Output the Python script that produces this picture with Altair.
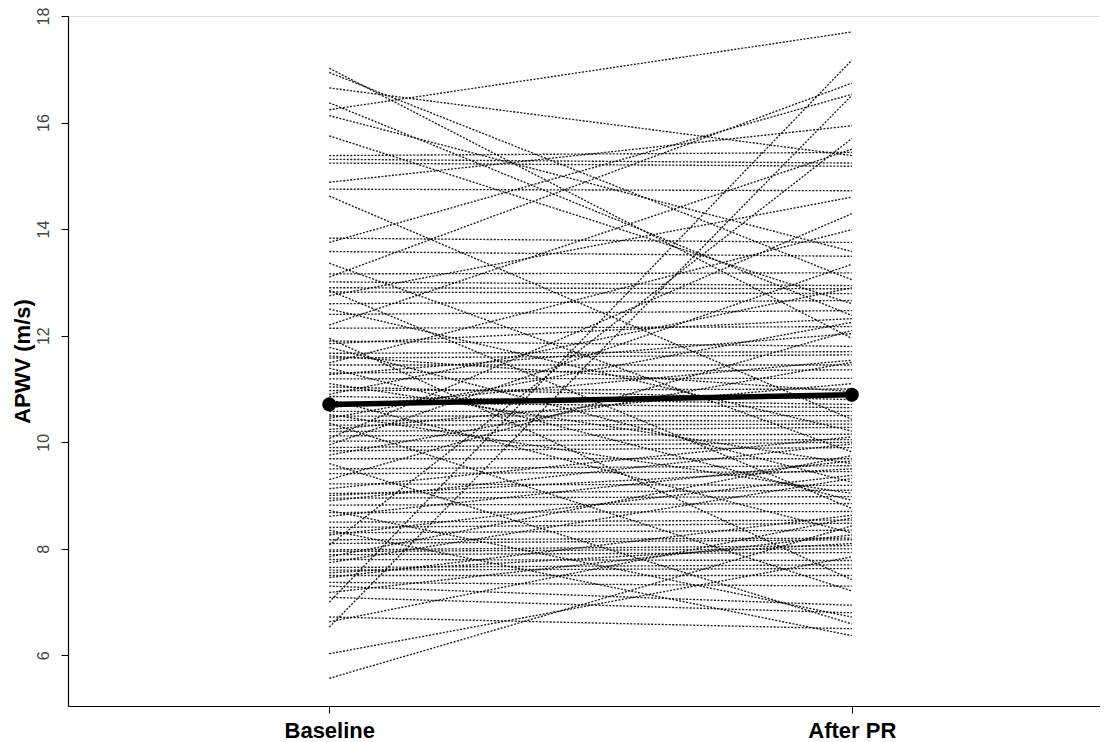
import altair as alt
import pandas as pd

# Individual subjects: APWV (m/s) at baseline and after PR
baseline = [17.02, 16.94, 16.65, 16.37, 16.24, 16.13, 15.75, 15.38, 15.31, 15.24,
            14.88, 14.75, 14.62, 13.83, 13.75, 13.58, 13.36, 13.16, 13.10, 13.01,
            12.90, 12.85, 12.82, 12.75, 12.60, 12.50, 12.40, 12.20, 12.14, 11.95,
            11.90, 11.85, 11.78, 11.67, 11.62, 11.58, 11.49, 11.45, 11.39, 11.30,
            11.27, 11.19, 11.10, 11.04, 10.97, 10.90, 10.86, 10.80, 10.75, 10.65,
            10.58, 10.52, 10.49, 10.45, 10.41, 10.36, 10.32, 10.24, 10.20, 10.12,
            10.07, 10.02, 9.95, 9.90, 9.84, 9.76, 9.69, 9.60, 9.50, 9.41,
            9.30, 9.22, 9.13, 9.04, 9.00, 8.95, 8.90, 8.82, 8.72, 8.68,
            8.61, 8.50, 8.40, 8.35, 8.30, 8.26, 8.17, 8.10, 8.07, 7.98,
            7.95, 7.89, 7.85, 7.80, 7.74, 7.65, 7.60, 7.55, 7.50, 7.46,
            7.37, 7.30, 7.18, 7.09, 7.00, 6.72, 6.63, 6.53, 6.03, 5.57]
after_pr = [11.95, 13.05, 15.38, 12.38, 17.70, 13.58, 12.60, 15.44, 15.24, 15.18,
            15.94, 14.72, 10.43, 13.75, 16.53, 13.49, 9.82, 13.18, 16.74, 12.94,
            12.88, 8.76, 12.79, 14.60, 12.66, 10.21, 12.47, 15.50, 12.17, 7.42,
            11.80, 12.32, 9.25, 11.70, 10.95, 11.64, 13.99, 11.45, 8.91, 11.36,
            12.04, 11.20, 9.60, 10.80, 11.00, 12.90, 10.71, 8.30, 10.65, 11.54,
            10.58, 9.04, 10.50, 12.25, 10.40, 7.21, 10.34, 11.10, 10.28, 10.15,
            14.29, 10.05, 13.34, 10.00, 9.90, 11.50, 9.69, 6.59, 9.56, 9.45,
            12.10, 9.19, 10.10, 9.10, 9.50, 8.98, 9.97, 8.85, 6.72, 8.70,
            9.65, 8.54, 8.48, 6.37, 8.35, 9.38, 8.20, 8.17, 15.70, 8.06,
            8.00, 7.93, 9.75, 7.78, 9.32, 7.70, 7.63, 8.10, 7.50, 8.63,
            7.30, 6.94, 8.26, 6.80, 17.17, 6.50, 8.58, 16.51, 7.85, 8.43]

mean_values = [10.71, 10.89]
time_positions = [1, 2]
time_labels = ["Baseline", "After PR"]
y_ticks = [6, 8, 10, 12, 14, 16, 18]

rows = []
for i, (b, a) in enumerate(zip(baseline, after_pr)):
    rows.append({"id": i, "t": time_positions[0], "v": b})
    rows.append({"id": i, "t": time_positions[1], "v": a})
df = pd.DataFrame(rows)
mean_df = pd.DataFrame({"t": time_positions, "v": mean_values})

label_expr = "datum.value == 1 ? '%s' : (datum.value == 2 ? '%s' : '')" % (time_labels[0], time_labels[1])

x_scale = alt.Scale(domain=[0.5, 2.475], nice=False, zero=False)
y_scale = alt.Scale(domain=[5.05, 18], nice=False, zero=False)

x_axis = alt.Axis(values=time_positions, labelExpr=label_expr, title=None, grid=False,
                  labelFont="Liberation Sans", labelFontWeight="bold", labelFontSize=22,
                  labelColor="#000000", labelPadding=7, tickSize=7, tickColor="#000000",
                  domainColor="#000000", domainWidth=1.2, tickWidth=1)
y_axis = alt.Axis(values=y_ticks, title="APWV (m/s)", grid=False,
                  labelAngle=270, labelAlign="center", labelBaseline="bottom",
                  labelFont="Liberation Sans", labelFontSize=16, labelColor="#444444",
                  labelPadding=10, tickSize=7, tickColor="#000000", domainColor="#000000",
                  domainWidth=1.2, tickWidth=1,
                  titleFont="Liberation Sans", titleFontWeight="bold", titleFontSize=22,
                  titleColor="#000000", titleAngle=270, titleX=-46, titleY=345,
                  titleAlign="center", titleBaseline="middle")

lines = alt.Chart(df).mark_line(color="#000000", strokeWidth=1.35, strokeDash=[2, 1.5],
                                opacity=0.9).encode(
    x=alt.X("t:Q", scale=x_scale, axis=x_axis),
    y=alt.Y("v:Q", scale=y_scale, axis=y_axis),
    detail="id:N",
    order="t:Q",
)

mean_line = alt.Chart(mean_df).mark_line(color="#000000", strokeWidth=5.5).encode(
    x=alt.X("t:Q", scale=x_scale),
    y=alt.Y("v:Q", scale=y_scale),
)
mean_pts = alt.Chart(mean_df).mark_circle(color="#000000", size=200, opacity=1).encode(
    x=alt.X("t:Q", scale=x_scale),
    y=alt.Y("v:Q", scale=y_scale),
)

chart = alt.layer(lines, mean_line, mean_pts).properties(
    width=1032, height=690,
    autosize=alt.AutoSizeParams(type="none"),
    padding={"left": 60, "top": 8, "right": 0, "bottom": 38},
).configure_view(stroke=None).configure(background="white")

chart.save("out.html", embed_options={"renderer": "svg", "actions": False})
